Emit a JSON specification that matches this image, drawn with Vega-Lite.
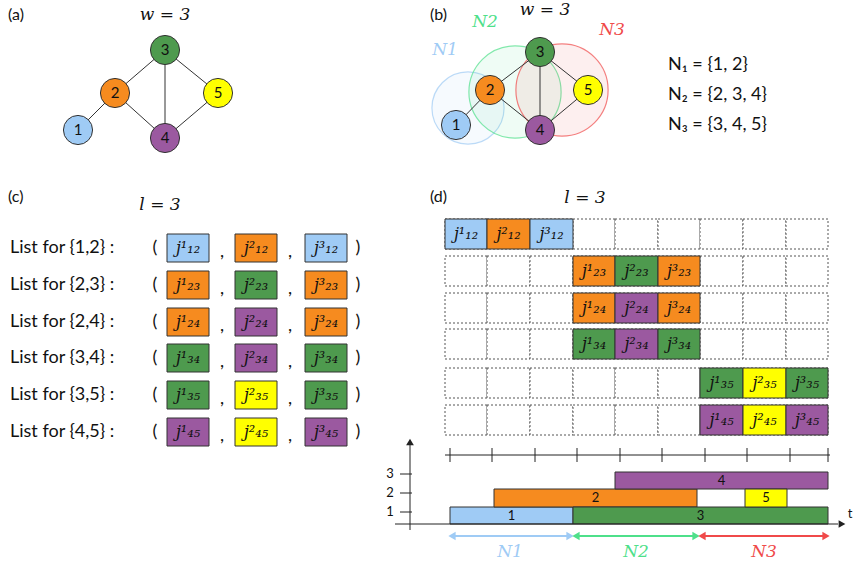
{
"$schema":"https://vega.github.io/schema/vega-lite/v6.json",
"width":853,"height":570,"padding":0,"autosize":{"type":"fit","contains":"padding"},
"config":{"view":{"stroke":null},"font":"Lato"},
"encoding":{"x":{"field":"x","type":"quantitative","scale":{"domain":[0,853]},"axis":null},"y":{"field":"y","type":"quantitative","scale":{"domain":[0,570],"reverse":true},"axis":null}},
"layer":[
{"data":{"values":[{"x":468,"y":108,"s":5200,"c":"#9fcbf5"},{"x":515,"y":92,"s":8500,"c":"#4ee08a"},{"x":562,"y":90,"s":8500,"c":"#f04a4a"}]},
 "mark":{"type":"point","shape":"circle","filled":false,"strokeWidth":1.2},
 "encoding":{"size":{"field":"s","type":"quantitative","scale":null},"stroke":{"field":"c","type":"nominal","scale":null},"fill":{"field":"c","type":"nominal","scale":null},"fillOpacity":{"value":0.12}}},
{"data":{"values":[
{"x":78,"y":130,"x2":115,"y2":93},{"x":115,"y":93,"x2":165,"y2":50},{"x":115,"y":93,"x2":165,"y2":138},{"x":165,"y":50,"x2":165,"y2":138},{"x":165,"y":50,"x2":218,"y2":93},{"x":165,"y":138,"x2":218,"y2":93},
{"x":456,"y":125,"x2":490,"y2":90},{"x":490,"y":90,"x2":540,"y2":52},{"x":490,"y":90,"x2":540,"y2":130},{"x":540,"y":52,"x2":540,"y2":130},{"x":540,"y":52,"x2":588,"y2":90},{"x":540,"y":130,"x2":588,"y2":90}]},
 "mark":{"type":"rule","color":"#333","strokeWidth":1},
 "encoding":{"x2":{"field":"x2"},"y2":{"field":"y2"}}},
{"data":{"values":[
{"x":78,"y":130,"t":"1","c":"#9fcbf5"},{"x":115,"y":93,"t":"2","c":"#f68b1f"},{"x":165,"y":50,"t":"3","c":"#4e9a4e"},{"x":165,"y":138,"t":"4","c":"#9b59a0"},{"x":218,"y":93,"t":"5","c":"#ffff00"},
{"x":456,"y":125,"t":"1","c":"#9fcbf5"},{"x":490,"y":90,"t":"2","c":"#f68b1f"},{"x":540,"y":52,"t":"3","c":"#4e9a4e"},{"x":540,"y":130,"t":"4","c":"#9b59a0"},{"x":588,"y":90,"t":"5","c":"#ffff00"}]},
 "layer":[
 {"mark":{"type":"point","shape":"circle","filled":true,"size":850,"stroke":"#333","strokeWidth":1,"opacity":1},"encoding":{"fill":{"field":"c","type":"nominal","scale":null}}},
 {"mark":{"type":"text","fontSize":15,"color":"#111"},"encoding":{"text":{"field":"t"}}}]},
{"data":{"values":[
{"x":8,"y":15,"t":"(a)"},{"x":430,"y":15,"t":"(b)"},{"x":8,"y":197,"t":"(c)"},{"x":430,"y":197,"t":"(d)"}]},
 "mark":{"type":"text","align":"left","fontSize":16,"color":"#111"},"encoding":{"text":{"field":"t"}}},
{"data":{"values":[
{"x":668,"y":65,"t":"N₁ = {1, 2}"},{"x":668,"y":95,"t":"N₂ = {2, 3, 4}"},{"x":668,"y":125,"t":"N₃ = {3, 4, 5}"},
{"x":10,"y":248,"t":"List  for {1,2} :"},{"x":10,"y":285,"t":"List  for {2,3} :"},{"x":10,"y":322,"t":"List  for {2,4} :"},{"x":10,"y":358,"t":"List  for {3,4} :"},{"x":10,"y":395,"t":"List  for {3,5} :"},{"x":10,"y":432,"t":"List  for {4,5} :"}]},
 "mark":{"type":"text","align":"left","fontSize":18,"color":"#111"},"encoding":{"text":{"field":"t"}}},
{"data":{"values":[
{"x":165,"y":15,"t":"w = 3","c":"#111"},{"x":545,"y":10,"t":"w = 3","c":"#111"},{"x":160,"y":205,"t":"l = 3","c":"#111"},{"x":585,"y":198,"t":"l = 3","c":"#111"},
{"x":445,"y":50,"t":"N1","c":"#9fcbf5"},{"x":485,"y":22,"t":"N2","c":"#4ee08a"},{"x":612,"y":30,"t":"N3","c":"#f04a4a"},
{"x":510,"y":552,"t":"N1","c":"#9fcbf5"},{"x":636,"y":552,"t":"N2","c":"#4ee08a"},{"x":764,"y":552,"t":"N3","c":"#f04a4a"}]},
 "mark":{"type":"text","fontSize":17,"font":"DejaVu Serif","fontStyle":"italic"},"encoding":{"text":{"field":"t"},"color":{"field":"c","type":"nominal","scale":null}}},
{"data":{"values":[
{"x":155,"y":248,"t":"("},{"x":155,"y":285,"t":"("},{"x":155,"y":322,"t":"("},{"x":155,"y":358,"t":"("},{"x":155,"y":395,"t":"("},{"x":155,"y":432,"t":"("},
{"x":358,"y":248,"t":")"},{"x":358,"y":285,"t":")"},{"x":358,"y":322,"t":")"},{"x":358,"y":358,"t":")"},{"x":358,"y":395,"t":")"},{"x":358,"y":432,"t":")"},
{"x":222,"y":252,"t":","},{"x":222,"y":289,"t":","},{"x":222,"y":326,"t":","},{"x":222,"y":362,"t":","},{"x":222,"y":399,"t":","},{"x":222,"y":436,"t":","},
{"x":290,"y":252,"t":","},{"x":290,"y":289,"t":","},{"x":290,"y":326,"t":","},{"x":290,"y":362,"t":","},{"x":290,"y":399,"t":","},{"x":290,"y":436,"t":","}]},
 "mark":{"type":"text","fontSize":18,"color":"#111"},"encoding":{"text":{"field":"t"}}},
{"data":{"values":[
{"x":445,"x2":487,"y":219,"y2":249},{"x":487,"x2":530,"y":219,"y2":249},{"x":530,"x2":573,"y":219,"y2":249},{"x":573,"x2":615,"y":219,"y2":249},{"x":615,"x2":658,"y":219,"y2":249},{"x":658,"x2":700,"y":219,"y2":249},{"x":700,"x2":743,"y":219,"y2":249},{"x":743,"x2":786,"y":219,"y2":249},{"x":786,"x2":828,"y":219,"y2":249},
{"x":445,"x2":487,"y":256,"y2":286},{"x":487,"x2":530,"y":256,"y2":286},{"x":530,"x2":573,"y":256,"y2":286},{"x":573,"x2":615,"y":256,"y2":286},{"x":615,"x2":658,"y":256,"y2":286},{"x":658,"x2":700,"y":256,"y2":286},{"x":700,"x2":743,"y":256,"y2":286},{"x":743,"x2":786,"y":256,"y2":286},{"x":786,"x2":828,"y":256,"y2":286},
{"x":445,"x2":487,"y":293,"y2":323},{"x":487,"x2":530,"y":293,"y2":323},{"x":530,"x2":573,"y":293,"y2":323},{"x":573,"x2":615,"y":293,"y2":323},{"x":615,"x2":658,"y":293,"y2":323},{"x":658,"x2":700,"y":293,"y2":323},{"x":700,"x2":743,"y":293,"y2":323},{"x":743,"x2":786,"y":293,"y2":323},{"x":786,"x2":828,"y":293,"y2":323},
{"x":445,"x2":487,"y":329,"y2":359},{"x":487,"x2":530,"y":329,"y2":359},{"x":530,"x2":573,"y":329,"y2":359},{"x":573,"x2":615,"y":329,"y2":359},{"x":615,"x2":658,"y":329,"y2":359},{"x":658,"x2":700,"y":329,"y2":359},{"x":700,"x2":743,"y":329,"y2":359},{"x":743,"x2":786,"y":329,"y2":359},{"x":786,"x2":828,"y":329,"y2":359},
{"x":445,"x2":487,"y":368,"y2":398},{"x":487,"x2":530,"y":368,"y2":398},{"x":530,"x2":573,"y":368,"y2":398},{"x":573,"x2":615,"y":368,"y2":398},{"x":615,"x2":658,"y":368,"y2":398},{"x":658,"x2":700,"y":368,"y2":398},{"x":700,"x2":743,"y":368,"y2":398},{"x":743,"x2":786,"y":368,"y2":398},{"x":786,"x2":828,"y":368,"y2":398},
{"x":445,"x2":487,"y":405,"y2":435},{"x":487,"x2":530,"y":405,"y2":435},{"x":530,"x2":573,"y":405,"y2":435},{"x":573,"x2":615,"y":405,"y2":435},{"x":615,"x2":658,"y":405,"y2":435},{"x":658,"x2":700,"y":405,"y2":435},{"x":700,"x2":743,"y":405,"y2":435},{"x":743,"x2":786,"y":405,"y2":435},{"x":786,"x2":828,"y":405,"y2":435}]},
 "mark":{"type":"rect","fill":"white","stroke":"#555","strokeDash":[2,2],"strokeWidth":1},
 "encoding":{"x2":{"field":"x2"},"y2":{"field":"y2"}}},
{"data":{"values":[
{"x":167,"x2":209,"y":234,"y2":262,"c":"#9fcbf5"},{"x":235,"x2":277,"y":234,"y2":262,"c":"#f68b1f"},{"x":305,"x2":347,"y":234,"y2":262,"c":"#9fcbf5"},
{"x":167,"x2":209,"y":271,"y2":299,"c":"#f68b1f"},{"x":235,"x2":277,"y":271,"y2":299,"c":"#4e9a4e"},{"x":305,"x2":347,"y":271,"y2":299,"c":"#f68b1f"},
{"x":167,"x2":209,"y":308,"y2":336,"c":"#f68b1f"},{"x":235,"x2":277,"y":308,"y2":336,"c":"#9b59a0"},{"x":305,"x2":347,"y":308,"y2":336,"c":"#f68b1f"},
{"x":167,"x2":209,"y":344,"y2":372,"c":"#4e9a4e"},{"x":235,"x2":277,"y":344,"y2":372,"c":"#9b59a0"},{"x":305,"x2":347,"y":344,"y2":372,"c":"#4e9a4e"},
{"x":167,"x2":209,"y":381,"y2":409,"c":"#4e9a4e"},{"x":235,"x2":277,"y":381,"y2":409,"c":"#ffff00"},{"x":305,"x2":347,"y":381,"y2":409,"c":"#4e9a4e"},
{"x":167,"x2":209,"y":418,"y2":446,"c":"#9b59a0"},{"x":235,"x2":277,"y":418,"y2":446,"c":"#ffff00"},{"x":305,"x2":347,"y":418,"y2":446,"c":"#9b59a0"},
{"x":445,"x2":487,"y":219,"y2":249,"c":"#9fcbf5"},{"x":487,"x2":530,"y":219,"y2":249,"c":"#f68b1f"},{"x":530,"x2":573,"y":219,"y2":249,"c":"#9fcbf5"},
{"x":573,"x2":615,"y":256,"y2":286,"c":"#f68b1f"},{"x":615,"x2":658,"y":256,"y2":286,"c":"#4e9a4e"},{"x":658,"x2":700,"y":256,"y2":286,"c":"#f68b1f"},
{"x":573,"x2":615,"y":293,"y2":323,"c":"#f68b1f"},{"x":615,"x2":658,"y":293,"y2":323,"c":"#9b59a0"},{"x":658,"x2":700,"y":293,"y2":323,"c":"#f68b1f"},
{"x":573,"x2":615,"y":329,"y2":359,"c":"#4e9a4e"},{"x":615,"x2":658,"y":329,"y2":359,"c":"#9b59a0"},{"x":658,"x2":700,"y":329,"y2":359,"c":"#4e9a4e"},
{"x":700,"x2":743,"y":368,"y2":398,"c":"#4e9a4e"},{"x":743,"x2":786,"y":368,"y2":398,"c":"#ffff00"},{"x":786,"x2":828,"y":368,"y2":398,"c":"#4e9a4e"},
{"x":700,"x2":743,"y":405,"y2":435,"c":"#9b59a0"},{"x":743,"x2":786,"y":405,"y2":435,"c":"#ffff00"},{"x":786,"x2":828,"y":405,"y2":435,"c":"#9b59a0"},
{"x":450,"x2":573,"y":507,"y2":524,"c":"#9fcbf5"},{"x":494,"x2":697,"y":489,"y2":507,"c":"#f68b1f"},{"x":573,"x2":828,"y":507,"y2":524,"c":"#4e9a4e"},{"x":615,"x2":828,"y":472,"y2":489,"c":"#9b59a0"},{"x":745,"x2":787,"y":489,"y2":507,"c":"#ffff00"}]},
 "mark":{"type":"rect","stroke":"#333","strokeWidth":1},"encoding":{"x2":{"field":"x2"},"y2":{"field":"y2"},"fill":{"field":"c","type":"nominal","scale":null}}},
{"data":{"values":[
{"x":188,"y":248,"t":"j¹₁₂"},{"x":256,"y":248,"t":"j²₁₂"},{"x":326,"y":248,"t":"j³₁₂"},
{"x":188,"y":285,"t":"j¹₂₃"},{"x":256,"y":285,"t":"j²₂₃"},{"x":326,"y":285,"t":"j³₂₃"},
{"x":188,"y":322,"t":"j¹₂₄"},{"x":256,"y":322,"t":"j²₂₄"},{"x":326,"y":322,"t":"j³₂₄"},
{"x":188,"y":358,"t":"j¹₃₄"},{"x":256,"y":358,"t":"j²₃₄"},{"x":326,"y":358,"t":"j³₃₄"},
{"x":188,"y":395,"t":"j¹₃₅"},{"x":256,"y":395,"t":"j²₃₅"},{"x":326,"y":395,"t":"j³₃₅"},
{"x":188,"y":432,"t":"j¹₄₅"},{"x":256,"y":432,"t":"j²₄₅"},{"x":326,"y":432,"t":"j³₄₅"},
{"x":466,"y":234,"t":"j¹₁₂"},{"x":508.5,"y":234,"t":"j²₁₂"},{"x":551.5,"y":234,"t":"j³₁₂"},
{"x":594,"y":271,"t":"j¹₂₃"},{"x":636.5,"y":271,"t":"j²₂₃"},{"x":679,"y":271,"t":"j³₂₃"},
{"x":594,"y":308,"t":"j¹₂₄"},{"x":636.5,"y":308,"t":"j²₂₄"},{"x":679,"y":308,"t":"j³₂₄"},
{"x":594,"y":344,"t":"j¹₃₄"},{"x":636.5,"y":344,"t":"j²₃₄"},{"x":679,"y":344,"t":"j³₃₄"},
{"x":721.5,"y":383,"t":"j¹₃₅"},{"x":764.5,"y":383,"t":"j²₃₅"},{"x":807,"y":383,"t":"j³₃₅"},
{"x":721.5,"y":420,"t":"j¹₄₅"},{"x":764.5,"y":420,"t":"j²₄₅"},{"x":807,"y":420,"t":"j³₄₅"}]},
 "mark":{"type":"text","fontSize":16,"font":"DejaVu Serif","fontStyle":"italic","color":"#111"},"encoding":{"text":{"field":"t"}}},
{"data":{"values":[{"x":511.5,"y":515.5,"t":"1"},{"x":595.5,"y":498,"t":"2"},{"x":700.5,"y":515.5,"t":"3"},{"x":721.5,"y":480.5,"t":"4"},{"x":766,"y":498,"t":"5"},
{"x":390,"y":474,"t":"3"},{"x":390,"y":493,"t":"2"},{"x":390,"y":512,"t":"1"},{"x":850,"y":514,"t":"t"}]},
 "mark":{"type":"text","fontSize":13,"color":"#111"},"encoding":{"text":{"field":"t"}}},
{"data":{"values":[
{"x":445,"y":455,"x2":830,"y2":455},{"x":410,"y":530,"x2":410,"y2":443},{"x":395,"y":524,"x2":838,"y2":524},
{"x":400,"y":474,"x2":412,"y2":474},{"x":400,"y":493,"x2":412,"y2":493},{"x":400,"y":512,"x2":412,"y2":512},
{"x":450,"y":448,"x2":450,"y2":462},{"x":492,"y":448,"x2":492,"y2":462},{"x":535,"y":448,"x2":535,"y2":462},{"x":577,"y":448,"x2":577,"y2":462},{"x":620,"y":448,"x2":620,"y2":462},{"x":662,"y":448,"x2":662,"y2":462},{"x":705,"y":448,"x2":705,"y2":462},{"x":747,"y":448,"x2":747,"y2":462},{"x":790,"y":448,"x2":790,"y2":462},{"x":828,"y":448,"x2":828,"y2":462}]},
 "mark":{"type":"rule","color":"#222","strokeWidth":1},"encoding":{"x2":{"field":"x2"},"y2":{"field":"y2"}}},
{"data":{"values":[{"x":410,"y":442,"s":"triangle-up"},{"x":842,"y":524,"s":"triangle-right"}]},
 "mark":{"type":"point","filled":true,"color":"#222","size":60,"opacity":1},"encoding":{"shape":{"field":"s","type":"nominal","scale":null}}},
{"data":{"values":[{"x":452,"x2":570,"y":536,"y2":536,"c":"#9fcbf5"},{"x":576,"x2":696,"y":536,"y2":536,"c":"#4ee08a"},{"x":702,"x2":826,"y":536,"y2":536,"c":"#f04a4a"}]},
 "mark":{"type":"rule","strokeWidth":2},"encoding":{"x2":{"field":"x2"},"y2":{"field":"y2"},"color":{"field":"c","type":"nominal","scale":null}}},
{"data":{"values":[{"x":452,"y":536,"s":"triangle-left","c":"#9fcbf5"},{"x":570,"y":536,"s":"triangle-right","c":"#9fcbf5"},{"x":576,"y":536,"s":"triangle-left","c":"#4ee08a"},{"x":696,"y":536,"s":"triangle-right","c":"#4ee08a"},{"x":702,"y":536,"s":"triangle-left","c":"#f04a4a"},{"x":826,"y":536,"s":"triangle-right","c":"#f04a4a"}]},
 "mark":{"type":"point","filled":true,"size":70,"opacity":1},"encoding":{"shape":{"field":"s","type":"nominal","scale":null},"color":{"field":"c","type":"nominal","scale":null}}}
]}
